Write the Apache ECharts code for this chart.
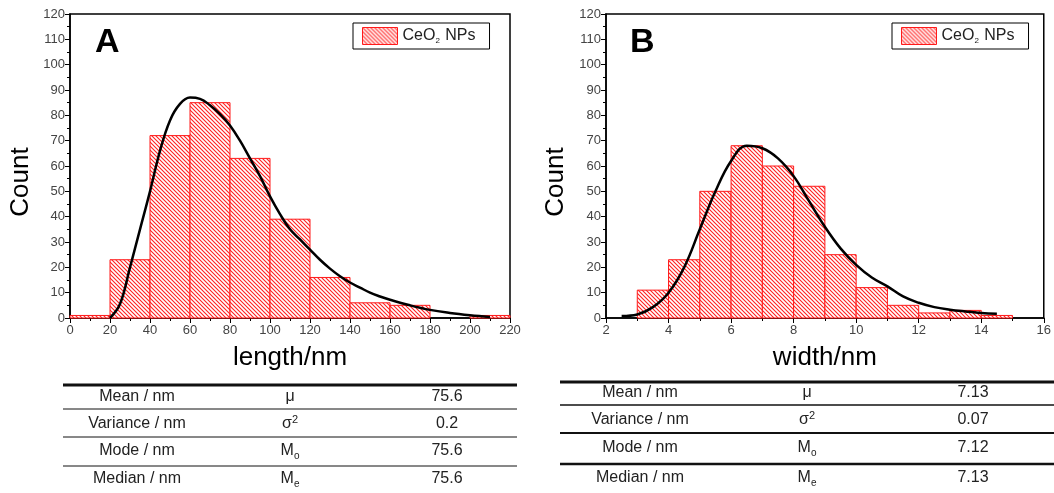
<!DOCTYPE html>
<html>
<head>
<meta charset="utf-8">
<script src="https://cdn.jsdelivr.net/npm/echarts@6/dist/echarts.min.js"></script>
<style>
  html, body { margin: 0; padding: 0; background: #fff; }
  #main { width: 1054px; height: 493px; }
</style>
</head>
<body>
<div id="main"></div>
<script>
// panel A: length histogram (bin edges, counts) and fitted curve
var lengthBinStart = [0, 20, 40, 60, 80, 100, 120, 140, 160, 180, 200];
var lengthBinEnd = [20, 40, 60, 80, 100, 120, 140, 160, 180, 200, 220];
var lengthCounts = [1, 23, 72, 85, 63, 39, 16, 6, 5, 0, 1];
var lengthFitX = [20, 25, 30, 35, 40, 45, 50, 55, 60, 65, 70, 75, 80, 85, 90, 95, 100, 105, 110, 115, 120, 125, 130, 135, 140, 145, 150, 155, 160, 170, 180, 190, 200, 210];
var lengthFitY = [0, 5.5, 20, 35, 50, 66, 78, 84.5, 87, 86.5, 84, 80.5, 76, 70, 63, 56, 48, 41, 35, 31, 27, 23, 19.5, 16.5, 14, 12, 10, 8.5, 7.2, 5, 3.2, 2, 1.1, 0.4];

// panel B: width histogram and fitted curve
var widthBinStart = [3, 4, 5, 6, 7, 8, 9, 10, 11, 12, 13, 14];
var widthBinEnd = [4, 5, 6, 7, 8, 9, 10, 11, 12, 13, 14, 15];
var widthCounts = [11, 23, 50, 68, 60, 52, 25, 12, 5, 2, 3, 1];
var widthFitX = [2.5, 3, 3.5, 4, 4.5, 5, 5.5, 6, 6.5, 7, 7.5, 8, 8.5, 9, 9.5, 10, 10.5, 11, 11.5, 12, 12.5, 13, 13.5, 14, 14.5];
var widthFitY = [0.8, 1.4, 4.3, 10, 20, 35, 50, 62, 68, 67, 63, 56, 46, 36, 27.5, 21, 16, 12.5, 8.5, 6, 4.3, 3.3, 2.6, 2, 1.7];

// statistics tables
var statNames = ['Mean / nm', 'Variance / nm', 'Mode / nm', 'Median / nm'];
var statSymbols = ['{n|μ}', '{n|σ}{sup|2}', '{n|M}{sub|o}', '{n|M}{sub|e}'];
var lengthStats = ['75.6', '0.2', '75.6', '75.6'];
var widthStats = ['7.13', '0.07', '7.12', '7.13'];

var yTicksMax = 120;

// hatch pattern: red diagonal lines
var hatch = document.createElement('canvas');
hatch.width = hatch.height = 4;
var hc = hatch.getContext('2d');
hc.fillStyle = '#fff';
hc.fillRect(0, 0, 4, 4);
hc.strokeStyle = '#ff2020';
hc.lineWidth = 1.1;
hc.beginPath();
hc.moveTo(-1, -1); hc.lineTo(5, 5);
hc.moveTo(-1, 3); hc.lineTo(1, 5);
hc.moveTo(3, -1); hc.lineTo(5, 1);
hc.stroke();
var hatchFill = { image: hatch, repeat: 'repeat' };

function bins(starts, ends, counts) {
  return starts.map(function (s, i) { return [s, ends[i], counts[i]]; });
}
function pairs(xs, ys) {
  return xs.map(function (x, i) { return [x, ys[i]]; });
}

function histItem(params, api) {
  var c = api.value(2);
  if (!c) return null;
  var p0 = api.coord([api.value(0), c]);
  var p1 = api.coord([api.value(1), 0]);
  return {
    type: 'rect',
    shape: { x: p0[0], y: p0[1], width: p1[0] - p0[0], height: p1[1] - p0[1] },
    style: { fill: hatchFill, stroke: '#ff1a1a', lineWidth: 1 }
  };
}

var font = 'Liberation Sans, Arial, sans-serif';

function xAxisCfg(idx, name, min, max, interval) {
  return {
    type: 'value', gridIndex: idx, name: name, nameLocation: 'middle', nameGap: 27,
    nameTextStyle: { fontSize: 26, color: '#000', fontFamily: font },
    min: min, max: max, interval: interval,
    axisLine: { lineStyle: { color: '#000', width: 1.5 } },
    axisTick: { show: true, length: 5, lineStyle: { color: '#000' } },
    minorTick: { show: true, splitNumber: 2, length: 3, lineStyle: { color: '#000' } },
    axisLabel: { color: '#444', fontSize: 13, fontFamily: font, margin: 6, showMaxLabel: true },
    splitLine: { show: false }
  };
}
function yAxisCfg(idx) {
  return {
    type: 'value', gridIndex: idx,
    min: 0, max: yTicksMax, interval: 10,
    axisLine: { show: true, lineStyle: { color: '#000', width: 1.5 } },
    axisTick: { show: true, length: 5, lineStyle: { color: '#000' } },
    minorTick: { show: true, splitNumber: 2, length: 3, lineStyle: { color: '#000' } },
    axisLabel: { color: '#444', fontSize: 13, fontFamily: font, margin: 5 },
    splitLine: { show: false }
  };
}
function legendCfg(left) {
  return {
    left: left, top: 23, orient: 'horizontal',
    data: [{ name: 'CeO2 NPs', icon: 'rect', itemStyle: { color: hatchFill, borderColor: '#ff1a1a', borderWidth: 1 } }],
    itemWidth: 35, itemHeight: 17, itemGap: 4,
    borderColor: '#000', borderWidth: 1, padding: [4, 14, 4, 9],
    selectedMode: false,
    formatter: function () { return '{a|CeO}{s|2}{a| NPs}'; },
    textStyle: {
      rich: {
        a: { fontSize: 16, color: '#222', fontFamily: font },
        s: { fontSize: 8, color: '#222', fontFamily: font, padding: [10, 1, 0, 0] }
      }
    }
  };
}

var graphics = [
  { type: 'text', left: 95, top: 26, style: { text: 'A', font: 'bold 34px ' + font, fill: '#000' } },
  { type: 'text', left: 630, top: 26, style: { text: 'B', font: 'bold 34px ' + font, fill: '#000' } },
  { type: 'text', x: 21, y: 182, rotation: Math.PI / 2,
    style: { text: 'Count', font: '26px ' + font, fill: '#000', align: 'center', verticalAlign: 'middle' } },
  { type: 'text', x: 556, y: 182, rotation: Math.PI / 2,
    style: { text: 'Count', font: '26px ' + font, fill: '#000', align: 'center', verticalAlign: 'middle' } }
];

function addTable(colX, rowY, lines, values) {
  lines.forEach(function (ln) {
    graphics.push({ type: 'line', shape: { x1: ln[0], y1: ln[2], x2: ln[1], y2: ln[2] },
      style: { stroke: '#111', lineWidth: ln[3] } });
  });
  statNames.forEach(function (nm, i) {
    graphics.push({ type: 'text', x: colX[0], y: rowY[i],
      style: { text: nm, font: '16px ' + font, fill: '#222', align: 'center', verticalAlign: 'middle' } });
    graphics.push({ type: 'text', x: colX[1], y: rowY[i],
      style: { text: statSymbols[i], align: 'center', verticalAlign: 'middle',
        rich: {
          n: { fontSize: 16, fontFamily: font, fill: '#222' },
          sup: { fontSize: 11, fontFamily: font, fill: '#222', padding: [0, 0, 8, 0] },
          sub: { fontSize: 10, fontFamily: font, fill: '#222', padding: [10, 0, 0, 0] }
        } } });
    graphics.push({ type: 'text', x: colX[2], y: rowY[i],
      style: { text: values[i], font: '16px ' + font, fill: '#222', align: 'center', verticalAlign: 'middle' } });
  });
}
addTable([137, 290, 447], [397, 424, 451, 479],
  [[63, 517, 385, 3], [63, 517, 409, 1], [63, 517, 437, 1], [63, 517, 466, 1]], lengthStats);
addTable([640, 807, 973], [393, 420, 448, 478],
  [[560, 1054, 382, 3], [560, 1054, 405, 1.5], [560, 1054, 433, 2], [560, 1054, 464, 2.5]], widthStats);

var option = {
  backgroundColor: '#fff',
  animation: false,
  textStyle: { fontFamily: font },
  grid: [
    { left: 70, right: 544, top: 14, bottom: 175, show: true, borderColor: '#000', borderWidth: 1.5 },
    { left: 606, right: 4, top: 14, bottom: 175, show: true, borderColor: '#000', borderWidth: 1.5 }
  ],
  xAxis: [
    xAxisCfg(0, 'length/nm', 0, 220, 20),
    xAxisCfg(1, 'width/nm', 2, 16, 2)
  ],
  yAxis: [yAxisCfg(0), yAxisCfg(1)],
  legend: [legendCfg(353), legendCfg(892)],
  series: [
    { name: 'CeO2 NPs', type: 'custom', xAxisIndex: 0, yAxisIndex: 0, renderItem: histItem,
      encode: { x: [0, 1], y: 2 }, itemStyle: { color: '#ff1a1a' },
      data: bins(lengthBinStart, lengthBinEnd, lengthCounts) },
    { name: 'fitA', type: 'line', xAxisIndex: 0, yAxisIndex: 0, smooth: 0.4, showSymbol: false,
      lineStyle: { color: '#000', width: 2.5 }, z: 5, data: pairs(lengthFitX, lengthFitY) },
    { name: 'CeO2 NPs', type: 'custom', xAxisIndex: 1, yAxisIndex: 1, renderItem: histItem,
      encode: { x: [0, 1], y: 2 }, itemStyle: { color: '#ff1a1a' },
      data: bins(widthBinStart, widthBinEnd, widthCounts) },
    { name: 'fitB', type: 'line', xAxisIndex: 1, yAxisIndex: 1, smooth: 0.4, showSymbol: false,
      lineStyle: { color: '#000', width: 2.5 }, z: 5, data: pairs(widthFitX, widthFitY) }
  ],
  graphic: graphics
};

var chart = echarts.init(document.getElementById('main'));
chart.setOption(option);
</script>
</body>
</html>
